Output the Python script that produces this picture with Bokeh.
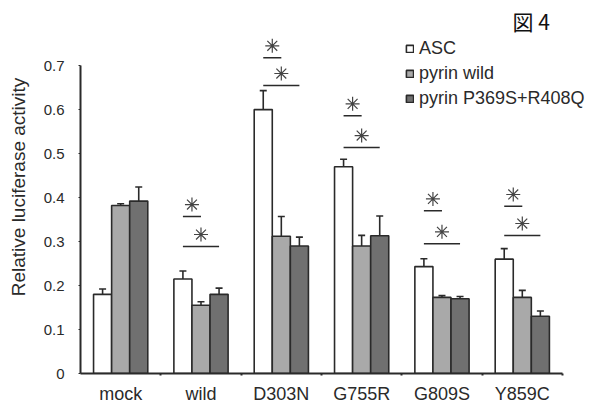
from bokeh.plotting import figure
from bokeh.models import (ColumnDataSource, Range1d, Whisker, Legend, LegendItem,
                          FixedTicker, Label)
from bokeh.transform import dodge
from bokeh.embed import file_html
from bokeh.resources import INLINE

groups = ["mock", "wild", "D303N", "G755R", "G809S", "Y859C"]
series = ["ASC", "pyrin wild", "pyrin P369S+R408Q"]
asc = [0.18, 0.215, 0.60, 0.47, 0.243, 0.26]
asc_err = [0.012, 0.018, 0.043, 0.017, 0.018, 0.024]
pw = [0.382, 0.155, 0.312, 0.29, 0.173, 0.173]
pw_err = [0.004, 0.008, 0.045, 0.024, 0.004, 0.016]
mut = [0.392, 0.18, 0.29, 0.313, 0.17, 0.13]
mut_err = [0.032, 0.014, 0.02, 0.045, 0.005, 0.012]
# significance bars (ASC vs pyrin wild, ASC vs mutant)
sig_groups = ["wild", "D303N", "G755R", "G809S", "Y859C"]
sig1_y = [0.357, 0.718, 0.586, 0.370, 0.380]
sig2_y = [0.289, 0.655, 0.514, 0.295, 0.314]
yticks = [0, 0.1, 0.2, 0.3, 0.4, 0.5, 0.6, 0.7]

FONT = "Liberation Sans"
DARK = "#2a2a2a"
colors = ["#ffffff", "#a9a9a9", "#707070"]
W = 0.225
n = len(groups)
centers = [i + 0.5 for i in range(n)]
gpos = dict(zip(groups, centers))

p = figure(width=601, height=407, output_backend="svg", toolbar_location=None,
           x_range=Range1d(0, 6.486), y_range=Range1d(0, 0.848),
           min_border_left=80, min_border_right=0, min_border_bottom=34, min_border_top=0)
p.outline_line_color = None
p.xgrid.visible = False
p.ygrid.visible = False
p.background_fill_color = "white"

src = ColumnDataSource(dict(x=centers, asc=asc, pw=pw, mut=mut,
                            asc_top=[a + e for a, e in zip(asc, asc_err)],
                            pw_top=[a + e for a, e in zip(pw, pw_err)],
                            mut_top=[a + e for a, e in zip(mut, mut_err)]))

renderers = []
for i, (col, c) in enumerate(zip(["asc", "pw", "mut"], colors)):
    off = (i - 1) * W
    r = p.vbar(x=dodge("x", off), top=col, width=W, source=src,
               fill_color=c, line_color=DARK, line_width=1.6)
    renderers.append(r)
    wk = Whisker(base=dodge("x", off), lower=col, upper=col + "_top",
                 source=src, line_color=DARK, line_width=1.6, lower_head=None)
    wk.upper_head.size = 7
    wk.upper_head.line_color = DARK
    wk.upper_head.line_width = 1.6
    p.add_layout(wk)

sig = ColumnDataSource(dict(x=[gpos[g] for g in sig_groups], y1=sig1_y, y2=sig2_y,
                            a1=[y + 0.027 for y in sig1_y], a2=[y + 0.027 for y in sig2_y]))
p.segment(x0=dodge("x", -W), x1=dodge("x", 0), y0="y1", y1="y1",
          source=sig, line_color=DARK, line_width=1.5)
p.segment(x0=dodge("x", -W), x1=dodge("x", W), y0="y2", y1="y2",
          source=sig, line_color=DARK, line_width=1.5)
p.scatter(x=dodge("x", -W / 2), y="a1", source=sig, marker="asterisk",
          size=14, line_color="#444444", line_width=1.2)
p.scatter(x=dodge("x", 0), y="a2", source=sig, marker="asterisk",
          size=14, line_color="#444444", line_width=1.2)

# axes
p.yaxis.ticker = FixedTicker(ticks=yticks)
p.yaxis.major_label_overrides = {t: ("0" if t == 0 else f"{t:.1f}") for t in yticks}
p.yaxis.bounds = (0, 0.7)
p.yaxis.axis_label = "Relative luciferase activity"
p.yaxis.axis_label_text_font = FONT
p.yaxis.axis_label_text_font_style = "normal"
p.yaxis.axis_label_text_font_size = "19px"
p.yaxis.axis_label_text_color = DARK
p.yaxis.axis_label_standoff = 12
p.yaxis.major_label_text_font = FONT
p.yaxis.major_label_text_font_size = "15px"
p.yaxis.major_label_text_color = DARK
p.yaxis.major_label_standoff = 14
p.yaxis.major_tick_in = 0
p.yaxis.major_tick_out = 2
p.yaxis.minor_tick_line_color = None
for ax in (p.xaxis, p.yaxis):
    ax.axis_line_color = DARK
    ax.axis_line_width = 2
    ax.major_tick_line_color = DARK
p.xaxis.ticker = FixedTicker(ticks=centers, minor_ticks=list(range(1, n + 1)))
p.xaxis.major_label_overrides = dict(zip(centers, groups))
p.xaxis.bounds = (0, n)
p.xaxis.major_tick_in = 0
p.xaxis.major_tick_out = 0
p.xaxis.minor_tick_in = 0
p.xaxis.minor_tick_out = 2
p.xaxis.minor_tick_line_color = DARK
p.xaxis.minor_tick_line_width = 2
p.xaxis.major_label_text_font = FONT
p.xaxis.major_label_text_font_size = "18px"
p.xaxis.major_label_text_color = DARK
p.xaxis.major_label_standoff = 8

legend = Legend(items=[LegendItem(label=s, renderers=[r]) for s, r in zip(series, renderers)],
                location=(325, 264), orientation="vertical",
                glyph_width=9, glyph_height=9, label_standoff=5, spacing=4,
                padding=0, margin=0, border_line_color=None, background_fill_alpha=0,
                label_text_font=FONT, label_text_font_size="18px", label_text_color=DARK,
                label_height=20)
p.add_layout(legend)

fig_label = Label(x=5.378, y=0.836, text="図 4", text_font="Noto Sans CJK JP",
                  text_font_size="21px", text_color="#111111", text_baseline="top")
p.add_layout(fig_label)

open("out.html", "w").write(file_html(p, INLINE))
